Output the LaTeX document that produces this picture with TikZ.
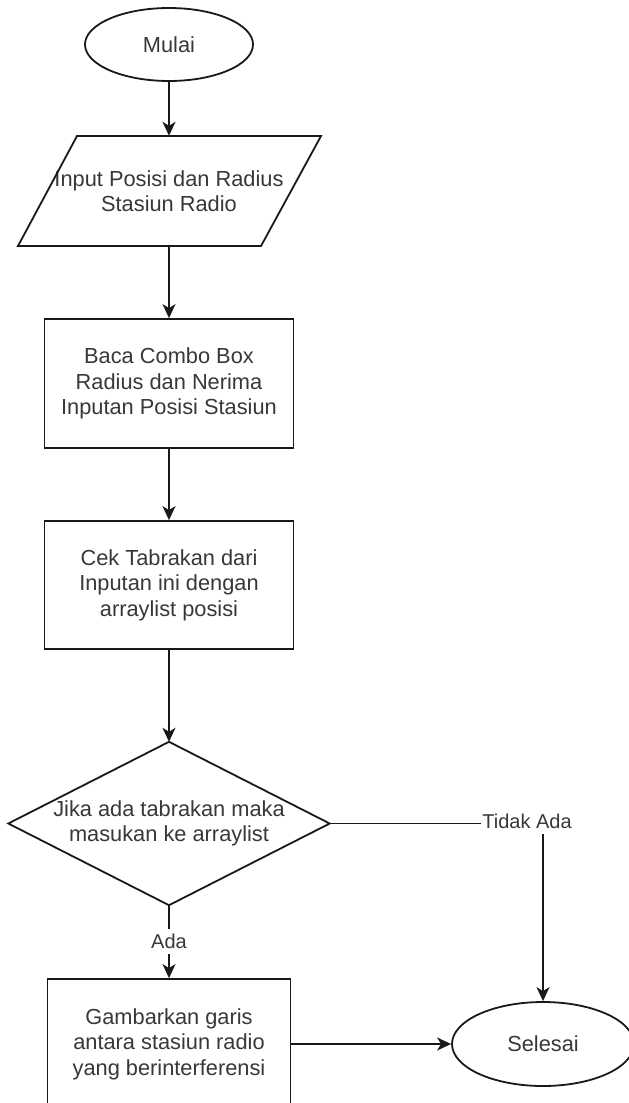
\documentclass[tikz,border=0pt]{standalone}
\usepackage{fontspec}
\setmainfont{Liberation Sans}
\usetikzlibrary{arrows.meta,shapes.geometric,calc}
\begin{document}
\begin{tikzpicture}[x=1pt,y=-1pt,
  every node/.style={font=\fontsize{21.8}{25.5}\selectfont, text=black!78, align=center},
  line/.style={draw=black!90, line width=1.8pt, line join=miter},
  flow/.style={line, -{Stealth[length=14pt,width=13pt,inset=4pt]}},
  terminal/.style={ellipse, line, fill=white, inner sep=0pt},
  process/.style={rectangle, line, fill=white, inner sep=0pt},
  frame/.style={rectangle, inner sep=0pt},
  edgelabel/.style={fill=white, inner xsep=1pt, inner ysep=5pt, font=\fontsize{20}{24}\selectfont}]
\fill[white] (0,0) rectangle (629,1103);
\useasboundingbox (0,0) rectangle (629,1103);

% start terminal
\node[terminal, minimum width=168pt, minimum height=73pt] (start) at (169,44.5) {Mulai};

% input parallelogram: text node plus slanted outline
\node[frame, minimum width=244pt, minimum height=110pt] (input) at (169,191) {Input Posisi dan Radius\\Stasiun Radio};
\draw[line] ($(input.center)+(-92,-55)$) -- ++(244,0) -- ++(-60,110) -- ++(-243,0) -- cycle;

% process steps
\node[process, minimum width=249pt, minimum height=129pt] (read) at (169,383.5) {Baca Combo Box\\Radius dan Nerima\\Inputan Posisi Stasiun};
\node[process, minimum width=249pt, minimum height=128pt] (check) at (169,585) {Cek Tabrakan dari\\Inputan ini dengan\\arraylist posisi};

% decision diamond
\node[frame, minimum width=321pt, minimum height=163pt] (decide) at (169,823.5) {Jika ada tabrakan maka\\masukan ke arraylist};
\draw[line] (decide.north) -- (decide.east) -- (decide.south) -- (decide.west) -- cycle;

% drawing step and end terminal
\node[process, minimum width=243pt, minimum height=130pt] (lines) at (169,1044) {Gambarkan garis\\antara stasiun radio\\yang berinterferensi};
\node[terminal, minimum width=182pt, minimum height=84pt] (finish) at (543,1044) {Selesai};

% connectors
\draw[flow] (start.south) -- (input.north);
\draw[flow] (input.south) -- (read.north);
\draw[flow] (read.south) -- (check.north);
\draw[flow] (check.south) -- (decide.north);
\draw[flow] (decide.south) -- node[edgelabel] {Ada} (lines.north);
\draw[flow] (lines.east) -- (finish.west);
\coordinate (bend) at (finish.north |- decide.east);
\draw[flow] (decide.east) -- (bend) -- (finish.north);
\node[edgelabel] (nolabel) at ([xshift=-16pt,yshift=2pt]bend) {Tidak Ada};
\end{tikzpicture}
\end{document}
